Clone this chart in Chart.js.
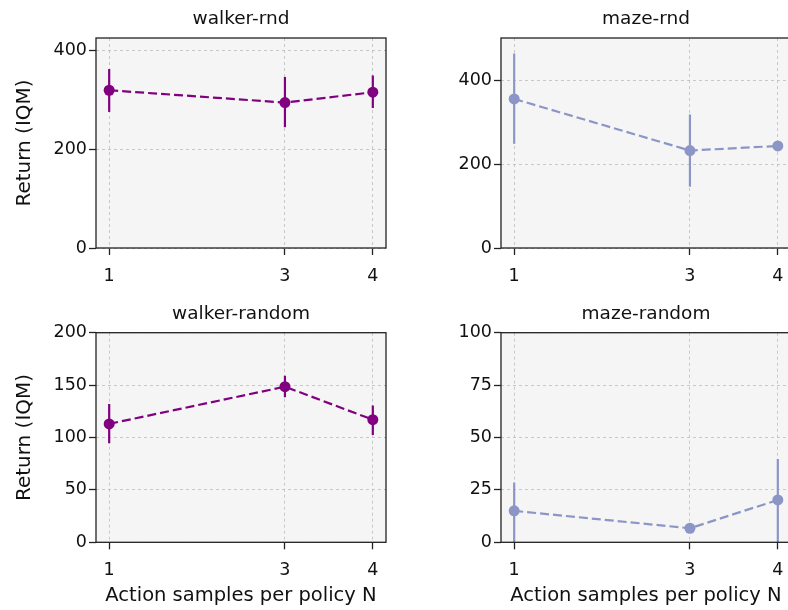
<!DOCTYPE html>
<html>
<head>
    <title>Action samples per policy</title>
    <script src="https://cdn.jsdelivr.net/npm/chart.js"></script>
    <style>
        body {
            margin: 0;
            background: #fff;
            overflow: hidden;
            width: 788px;
            height: 610px;
            position: relative;
        }
        canvas {
            position: absolute;
        }
    </style>
</head>
<body>
    <canvas id="c0" width="394" height="290" style="left:0;top:0"></canvas>
    <canvas id="c1" width="410" height="290" style="left:394px;top:0"></canvas>
    <canvas id="c2" width="394" height="320" style="left:0;top:290px"></canvas>
    <canvas id="c3" width="410" height="320" style="left:394px;top:290px"></canvas>

    <script>
        // data
        const samples = [1, 3, 4];
        const xTicks = [1, 3, 4];

        const walkerRndIqm = [320, 295, 316];
        const walkerRndLo = [276, 245, 284];
        const walkerRndHi = [363, 347, 350];

        const mazeRndIqm = [355, 232, 243];
        const mazeRndLo = [248, 146, 238];
        const mazeRndHi = [463, 318, 248];

        const walkerRandomIqm = [113, 148.5, 117];
        const walkerRandomLo = [94.5, 138.5, 102.5];
        const walkerRandomHi = [132, 159, 130.5];

        const mazeRandomIqm = [15, 6.7, 20.2];
        const mazeRandomLo = [0, 4.5, 0];
        const mazeRandomHi = [28.5, 9, 39.8];

        const yTicksRnd = [0, 200, 400];
        const yTicksWalkerRandom = [0, 50, 100, 150, 200];
        const yTicksMazeRandom = [0, 25, 50, 75, 100];

        const walkerColor = '#800080';
        const mazeColor = '#8c96c6';
        const FONT = "'DejaVu Sans', sans-serif";

        // panel background, frame and error bars
        const panelDeco = {
            id: 'panelDeco',
            beforeDraw(chart) {
                const a = chart.chartArea, ctx = chart.ctx;
                ctx.save();
                ctx.fillStyle = '#f5f5f5';
                ctx.fillRect(a.left, a.top, a.right - a.left, a.bottom - a.top);
                ctx.restore();
            },
            beforeDatasetsDraw(chart, args, opts) {
                const a = chart.chartArea, ctx = chart.ctx;
                const xs = chart.scales.x, ys = chart.scales.y;
                ctx.save();
                ctx.beginPath();
                ctx.rect(a.left, a.top, a.right - a.left, a.bottom - a.top);
                ctx.clip();
                ctx.strokeStyle = opts.color;
                ctx.lineWidth = 2.2;
                samples.forEach((n, i) => {
                    const px = xs.getPixelForValue(n);
                    ctx.beginPath();
                    ctx.moveTo(px, ys.getPixelForValue(opts.lo[i]));
                    ctx.lineTo(px, ys.getPixelForValue(opts.hi[i]));
                    ctx.stroke();
                });
                ctx.restore();
            },
            afterDraw(chart) {
                const a = chart.chartArea, ctx = chart.ctx;
                ctx.save();
                ctx.strokeStyle = '#222';
                ctx.lineWidth = 1.3;
                ctx.strokeRect(a.left, a.top, a.right - a.left, a.bottom - a.top);
                ctx.restore();
            }
        };

        function makePanel(id, title, iqm, lo, hi, color, yMax, yTicks, isLeft, isBottom) {
            const yWidth = isLeft ? 96 : 107;
            const xHeight = isBottom ? 67.7 : 42;
            const titlePad = isBottom ? {top: 14.5, bottom: 9.7} : {top: 10, bottom: 9.5};
            new Chart(document.getElementById(id), {
                type: 'line',
                plugins: [panelDeco],
                data: {
                    datasets: [{
                        data: samples.map((n, i) => ({x: n, y: iqm[i]})),
                        borderColor: color,
                        backgroundColor: color,
                        borderWidth: 2.2,
                        borderDash: [9, 4],
                        pointRadius: 5.5,
                        pointBorderWidth: 0,
                        pointBackgroundColor: color,
                        tension: 0
                    }]
                },
                options: {
                    responsive: false,
                    animation: false,
                    layout: {padding: {left: 0, right: isLeft ? 8 : 13, top: 0, bottom: 0}},
                    plugins: {
                        legend: {display: false},
                        tooltip: {enabled: false},
                        title: {
                            display: true,
                            text: title,
                            fullSize: false,
                            color: '#111',
                            font: {family: FONT, size: 18.5, weight: 'normal', lineHeight: 1},
                            padding: titlePad
                        },
                        panelDeco: {lo: lo, hi: hi, color: color}
                    },
                    scales: {
                        x: {
                            type: 'linear',
                            min: 0.85,
                            max: 4.15,
                            afterBuildTicks: s => { s.ticks = xTicks.map(v => ({value: v})); },
                            afterFit: s => { s.height = xHeight; },
                            grid: {
                                color: '#bdbdbd',
                                lineWidth: 0.8,
                                drawTicks: true,
                                tickLength: 7,
                                tickColor: '#222',
                                tickWidth: 1.3,
                                tickBorderDash: []
                            },
                            border: {display: false, dash: [3, 3]},
                            ticks: {
                                color: '#111',
                                font: {family: FONT, size: 17.5},
                                padding: 11,
                                autoSkip: false,
                                maxRotation: 0
                            },
                            title: {
                                display: isBottom,
                                text: 'Action samples per policy N',
                                color: '#111',
                                font: {family: FONT, size: 19.5, lineHeight: 1},
                                padding: {top: 0, bottom: 4.5}
                            }
                        },
                        y: {
                            min: 0,
                            max: yMax,
                            afterBuildTicks: s => { s.ticks = yTicks.map(v => ({value: v})); },
                            afterFit: s => { s.width = yWidth; },
                            grid: {
                                color: '#bdbdbd',
                                lineWidth: 0.8,
                                drawTicks: true,
                                tickLength: 7,
                                tickColor: '#222',
                                tickWidth: 1.3,
                                tickBorderDash: []
                            },
                            border: {display: false, dash: [3, 3]},
                            ticks: {
                                color: '#111',
                                font: {family: FONT, size: 17.5},
                                padding: 2
                            },
                            title: {
                                display: isLeft,
                                text: 'Return (IQM)',
                                color: '#111',
                                font: {family: FONT, size: 20, lineHeight: 1},
                                padding: {top: 15, bottom: 0}
                            }
                        }
                    }
                }
            });
        }

        makePanel('c0', 'walker-rnd', walkerRndIqm, walkerRndLo, walkerRndHi, walkerColor, 426, yTicksRnd, true, false);
        makePanel('c1', 'maze-rnd', mazeRndIqm, mazeRndLo, mazeRndHi, mazeColor, 500, yTicksRnd, false, false);
        makePanel('c2', 'walker-random', walkerRandomIqm, walkerRandomLo, walkerRandomHi, walkerColor, 200, yTicksWalkerRandom, true, true);
        makePanel('c3', 'maze-random', mazeRandomIqm, mazeRandomLo, mazeRandomHi, mazeColor, 100, yTicksMazeRandom, false, true);
    </script>
</body>
</html>
